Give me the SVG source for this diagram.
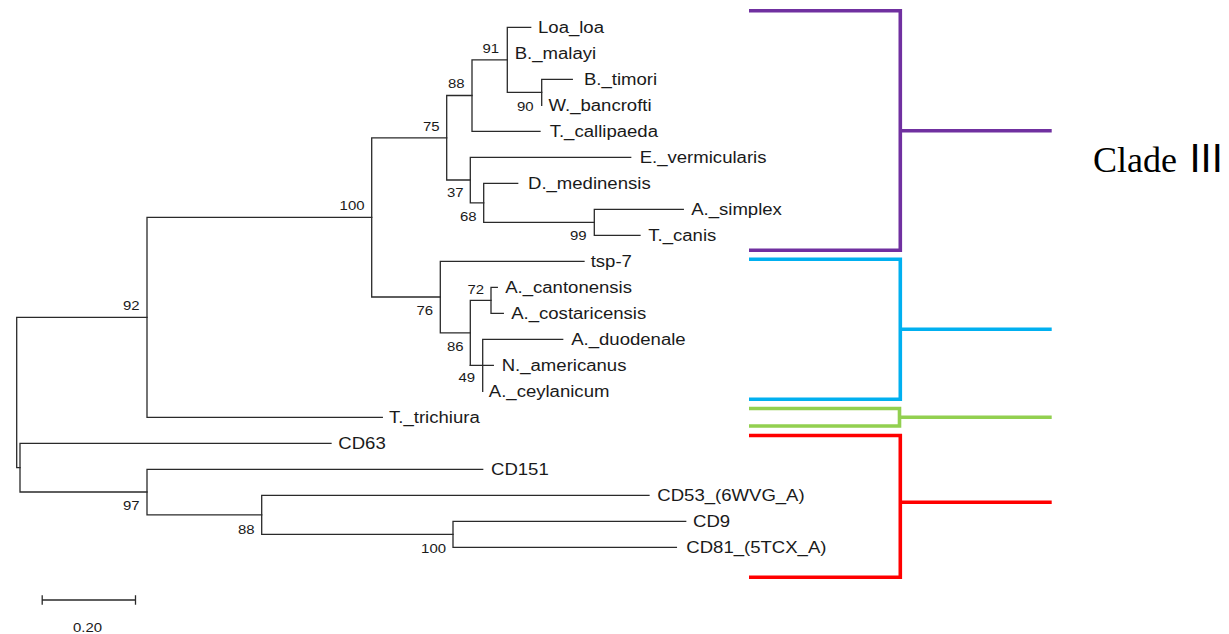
<svg xmlns="http://www.w3.org/2000/svg" width="1229" height="634" viewBox="0 0 1229 634">
<style>
.tree path{fill:none;stroke:#2a2a2a;stroke-width:1.3;stroke-linecap:square}
.leaf{font-family:"Liberation Sans",Arial,sans-serif;font-size:16px;fill:#1a1a1a}
.bs{font-family:"Liberation Sans",Arial,sans-serif;font-size:13px;fill:#1a1a1a;text-anchor:end}
.br{fill:none;stroke-width:3.6;stroke-linejoin:miter;stroke-linecap:butt}
.clade{font-family:"Liberation Serif","Times New Roman",serif;font-size:36px;fill:#000}
</style>
<rect width="1229" height="634" fill="#fff"/>
<g id="connectors" class="tree">
<!-- Filarial group -->
<path d="M541.7,79.3V105.3M541.7,79.3H572.3"/>
<path d="M507.3,27.3V92.3M507.3,27.3H530.7M507.3,92.3H541.7"/>
<path d="M472,59.8V131.3M472,59.8H507.3M472,131.3H540"/>
<path d="M594.3,209.3V235.3M594.3,209.3H683.3M594.3,235.3H640"/>
<path d="M483.7,183.3V222.3M483.7,183.3H517.7M483.7,222.3H594.3"/>
<path d="M470.3,157.3V202.8M470.3,157.3H630.7M470.3,202.8H483.7"/>
<path d="M446.7,95.5V180M446.7,95.5H472M446.7,180H470.3"/>
<!-- Strongylid group -->
<path d="M491,287.3V313.3M491,287.3H497.3M491,313.3H503.3"/>
<path d="M482.7,339.3V391.3M482.7,339.3H562.7M470.3,365.3H493.3"/>
<path d="M470.3,300.3V365.3M470.3,300.3H491"/>
<path d="M440.3,261.3V332.8M440.3,261.3H584M440.3,332.8H470.3"/>
<path d="M371.7,137.8V297M371.7,137.8H446.7M371.7,297H440.3"/>
<path d="M147,217.4V417.3M147,217.4H371.7M147,417.3H382.3"/>
<!-- CD group -->
<path d="M453,521.3V547.3M453,521.3H685.7M453,547.3H676.4"/>
<path d="M261.7,495.3V534.3M261.7,495.3H649M261.7,534.3H453"/>
<path d="M147,469.3V514.8M147,469.3H482.7M147,514.8H261.7"/>
<path d="M20,443.3V492M20,443.3H331M20,492H147"/>
<path d="M16.7,317.3V467.7M16.7,317.3H147M16.7,467.7H20"/>
<!-- scale bar -->
<path d="M42.2,600H135.5M42.2,596V604M135.5,596V604"/>
</g>
<g id="leaf-labels">
<text id="n-loa" class="leaf" transform="translate(538,33.3) scale(1.16,1)">Loa_loa</text>
<text id="n-malayi" class="leaf" transform="translate(514.7,59.3) scale(1.16,1)">B._malayi</text>
<text id="n-timori" class="leaf" transform="translate(584,85.3) scale(1.16,1)">B._timori</text>
<text id="n-bancrofti" class="leaf" transform="translate(548.5,111.3) scale(1.16,1)">W._bancrofti</text>
<text id="n-callipaeda" class="leaf" transform="translate(549.7,137.3) scale(1.16,1)">T._callipaeda</text>
<text id="n-vermicularis" class="leaf" transform="translate(639.7,163.3) scale(1.16,1)">E._vermicularis</text>
<text id="n-medinensis" class="leaf" transform="translate(528,189.3) scale(1.16,1)">D._medinensis</text>
<text id="n-simplex" class="leaf" transform="translate(691.2,215.3) scale(1.16,1)">A._simplex</text>
<text id="n-canis" class="leaf" transform="translate(648.3,241.3) scale(1.16,1)">T._canis</text>
<text id="n-tsp7" class="leaf" transform="translate(590.7,267.3) scale(1.16,1)">tsp-7</text>
<text id="n-cantonensis" class="leaf" transform="translate(505.2,293.3) scale(1.16,1)">A._cantonensis</text>
<text id="n-costaricensis" class="leaf" transform="translate(511.2,319.3) scale(1.16,1)">A._costaricensis</text>
<text id="n-duodenale" class="leaf" transform="translate(571.2,345.3) scale(1.16,1)">A._duodenale</text>
<text id="n-americanus" class="leaf" transform="translate(501.7,371.3) scale(1.16,1)">N._americanus</text>
<text id="n-ceylanicum" class="leaf" transform="translate(488.8,397.3) scale(1.16,1)">A._ceylanicum</text>
<text id="n-trichiura" class="leaf" transform="translate(389,423.3) scale(1.16,1)">T._trichiura</text>
<text id="n-cd63" class="leaf" transform="translate(338.3,449.3) scale(1.16,1)">CD63</text>
<text id="n-cd151" class="leaf" transform="translate(491,475.3) scale(1.16,1)">CD151</text>
<text id="n-cd53" class="leaf" transform="translate(657.3,501.3) scale(1.16,1)">CD53_(6WVG_A)</text>
<text id="n-cd9" class="leaf" transform="translate(693,527.3) scale(1.16,1)">CD9</text>
<text id="n-cd81" class="leaf" transform="translate(686.3,553.3) scale(1.16,1)">CD81_(5TCX_A)</text>
</g>
<g id="bootstrap">
<text class="bs" transform="translate(499,52.7) scale(1.15,1)">91</text>
<text class="bs" transform="translate(533.5,110.7) scale(1.15,1)">90</text>
<text class="bs" transform="translate(464.5,88) scale(1.15,1)">88</text>
<text class="bs" transform="translate(439.5,130.7) scale(1.15,1)">75</text>
<text class="bs" transform="translate(463.5,197.4) scale(1.15,1)">37</text>
<text class="bs" transform="translate(476.5,220.7) scale(1.15,1)">68</text>
<text class="bs" transform="translate(586.5,239.7) scale(1.15,1)">99</text>
<text class="bs" transform="translate(364.5,209.7) scale(1.15,1)">100</text>
<text class="bs" transform="translate(139.5,309.7) scale(1.15,1)">92</text>
<text class="bs" transform="translate(433,314.7) scale(1.15,1)">76</text>
<text class="bs" transform="translate(484,293.7) scale(1.15,1)">72</text>
<text class="bs" transform="translate(463.5,350.7) scale(1.15,1)">86</text>
<text class="bs" transform="translate(475,382.4) scale(1.15,1)">49</text>
<text class="bs" transform="translate(139.5,510) scale(1.15,1)">97</text>
<text class="bs" transform="translate(254.5,534) scale(1.15,1)">88</text>
<text class="bs" transform="translate(446,553) scale(1.15,1)">100</text>
<text class="bs" transform="translate(102,631.5) scale(1.15,1)">0.20</text>
</g>
<g id="clade-brackets">
<g id="clade-purple"><path class="br" stroke="#7030A0" d="M749,10.8H900.3V250.3H749M900.3,130.7H1051.7"/></g>
<g id="clade-blue"><path class="br" stroke="#00B0F0" d="M749,259.3H900.3V399.3H749M900.3,329.3H1051.7"/></g>
<g id="clade-green"><path class="br" stroke="#92D050" d="M749,408.5H899.5V426H749M899.5,417.3H1051.7"/></g>
<g id="clade-red"><path class="br" stroke="#FF0000" d="M749,435.5H900.3V577.3H749M900.3,502.3H1051.7"/></g>
</g>
<g id="clade-label">
<text class="clade" x="1093" y="172.3">Clade <tspan font-family="'Liberation Sans',Arial,sans-serif" font-size="40px" x="1189.5">III</tspan></text>
</g>
</svg>
